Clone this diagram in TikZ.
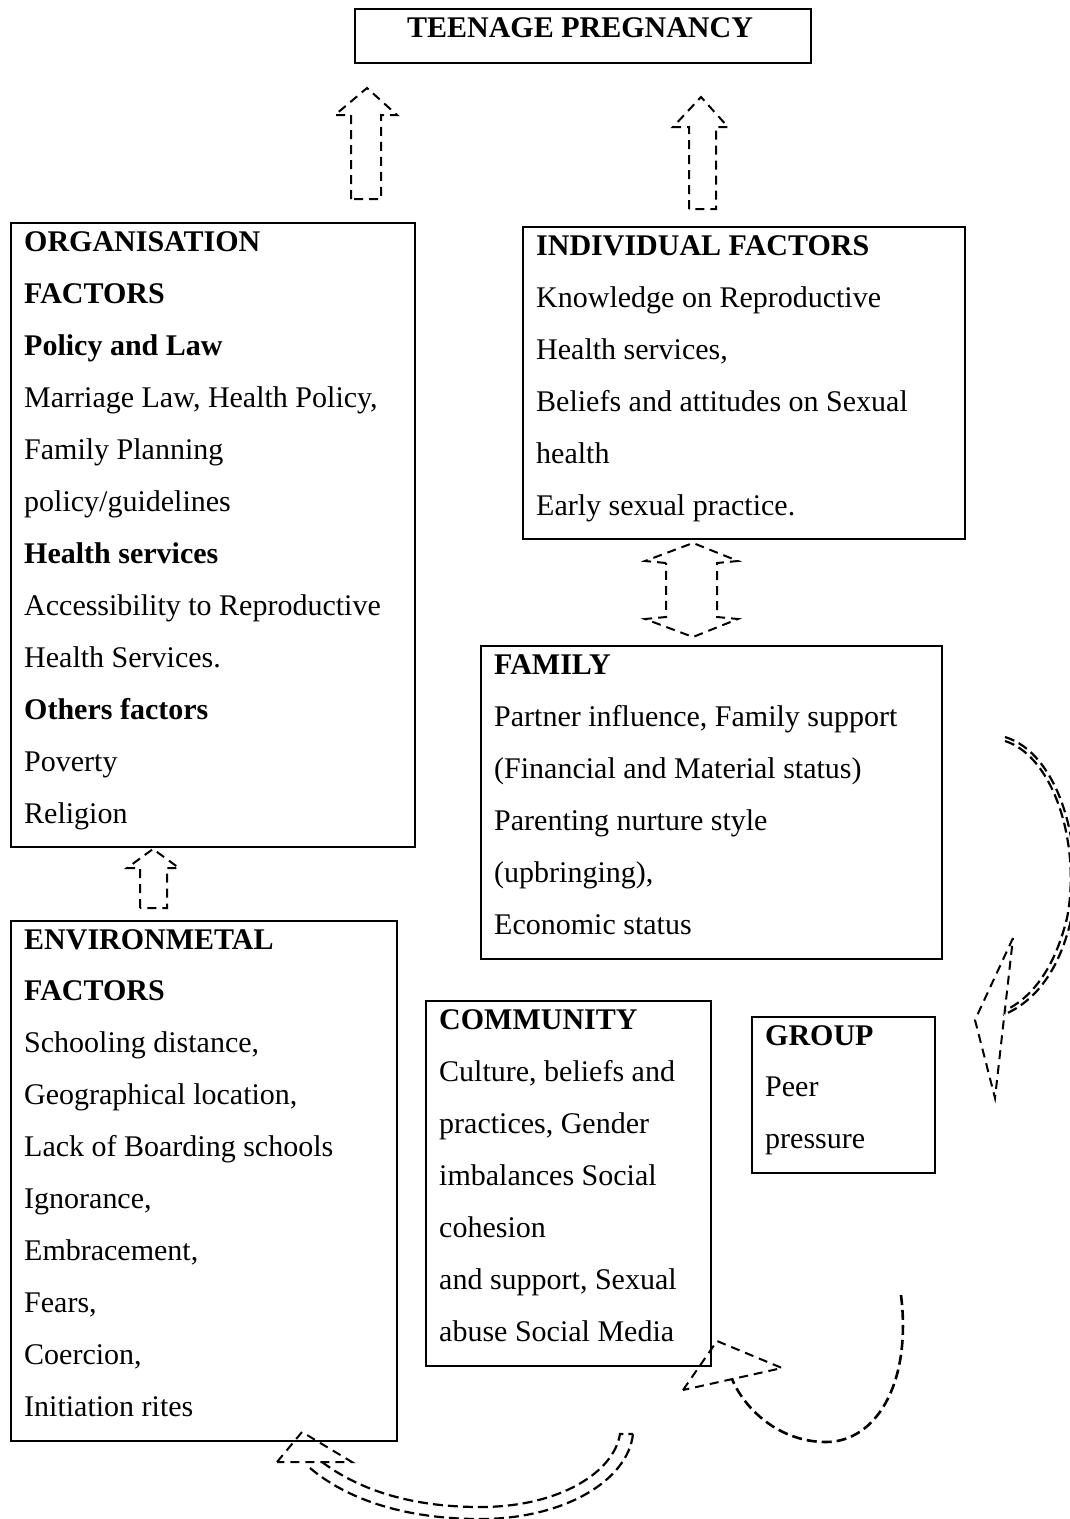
\documentclass[tikz,border=0pt]{standalone}
\usepackage{fontspec}
\setmainfont{Liberation Serif}
\begin{document}
\begin{tikzpicture}[x=1pt,y=-1pt,
  box/.style={draw, line width=1.6pt, inner sep=0pt, anchor=north west},
  txt/.style={anchor=base west, inner sep=0pt, font=\fontsize{30}{36}\selectfont},
  dsh/.style={draw, line width=2pt, dash pattern=on 9pt off 6pt, line join=miter},
  dshc/.style={draw, line width=2.2pt, dash pattern=on 10pt off 5pt}]
\useasboundingbox (0,0) rectangle (1069,1519);

% boxes
\node[box, minimum width=456, minimum height=54] (top) at (354,8) {};
\node[box, minimum width=404, minimum height=624] (org) at (10,222) {};
\node[box, minimum width=442, minimum height=312] (ind) at (522,226) {};
\node[box, minimum width=461, minimum height=313] (fam) at (480,645) {};
\node[box, minimum width=386, minimum height=520] (env) at (10,920) {};
\node[box, minimum width=285, minimum height=365] (com) at (425,1000) {};
\node[box, minimum width=183, minimum height=156] (grp) at (751,1016) {};

% title
\node[anchor=base, inner sep=0pt, font=\fontsize{30}{36}\selectfont\bfseries] (title) at (580,37) {TEENAGE PREGNANCY};

% texts
\foreach \t [count=\i from 0] in {\textbf{ORGANISATION},\textbf{FACTORS},\textbf{Policy and Law},{Marriage Law, Health Policy,},Family Planning,policy/guidelines,\textbf{Health services},Accessibility to Reproductive,Health Services.,\textbf{Others factors},Poverty,Religion}
  \node[txt] (orgt\i) at (24,251+52*\i) {\t};

\foreach \t [count=\i from 0] in {\textbf{INDIVIDUAL FACTORS},Knowledge on Reproductive,{Health services,},Beliefs and attitudes on Sexual,health,Early sexual practice.}
  \node[txt] (indt\i) at (536,255+52*\i) {\t};

\foreach \t [count=\i from 0] in {\textbf{FAMILY},{Partner influence, Family support},{(Financial and Material status)},Parenting nurture style,{(upbringing),},Economic status}
  \node[txt] (famt\i) at (494,674+52*\i) {\t};

\foreach \t [count=\i from 0] in {\textbf{ENVIRONMETAL},\textbf{FACTORS},{Schooling distance,},{Geographical location,},Lack of Boarding schools,{Ignorance,},{Embracement,},{Fears,},{Coercion,},Initiation rites}
  \node[txt] (envt\i) at (24,949+51.9*\i) {\t};

\foreach \t [count=\i from 0] in {\textbf{COMMUNITY},{Culture, beliefs and},{practices, Gender},imbalances Social,cohesion,{and support, Sexual},abuse Social Media}
  \node[txt] (comt\i) at (439,1029+52*\i) {\t};

\foreach \t [count=\i from 0] in {\textbf{GROUP},Peer,pressure}
  \node[txt] (grpt\i) at (765,1045+51.5*\i) {\t};

% block arrows (dashed outlines)
\draw[dsh] (351,199) -- (351,115) -- (335,115) -- (367,88) -- (397,115) -- (381,115) -- (381,199) -- cycle;
\draw[dsh] (689,209) -- (689,127) -- (673,127) -- (701,97) -- (728,127) -- (716,127) -- (716,209) -- cycle;
\draw[dsh] (666,563) -- (645,561) -- (693,543) -- (738,561) -- (717,563) -- (717,617) -- (738,619) -- (693,637) -- (645,619) -- (666,617) -- cycle;
\draw[dsh] (140,908) -- (140,868) -- (127,868) -- (153,849) -- (179,868) -- (167,868) -- (167,908) -- cycle;

% right curved arrow
\draw[dshc] (1005,737) .. controls (1058,753) and (1085,845) .. (1071,920) .. controls (1058,975) and (1032,1003) .. (1003,1015);
\draw[dshc] (1005,741) .. controls (1055,757) and (1081,847) .. (1067,918) .. controls (1054,971) and (1030,999) .. (1004,1011);
\draw[dsh] (1013,938) -- (975,1020) -- (995,1098) -- cycle;

% bottom right curved arrow
\draw[draw, line width=2.6pt, dash pattern=on 10pt off 5pt] (901,1295) .. controls (912,1385) and (875,1442) .. (826,1442) .. controls (780,1442) and (745,1410) .. (732,1379);
\draw[dsh] (683,1390) -- (717,1341) -- (782,1368) -- cycle;

% bottom left curved arrow
\draw[dshc] (310,1468) .. controls (360,1510) and (430,1519) .. (480,1519) .. controls (565,1519) and (628,1480) .. (633,1434);
\draw[dshc] (322,1462) .. controls (370,1498) and (430,1507) .. (480,1507) .. controls (560,1507) and (614,1472) .. (620,1434) -- (633,1434);
\draw[dsh] (277,1462) -- (302,1432) -- (352,1462) -- cycle;
\end{tikzpicture}
\end{document}
